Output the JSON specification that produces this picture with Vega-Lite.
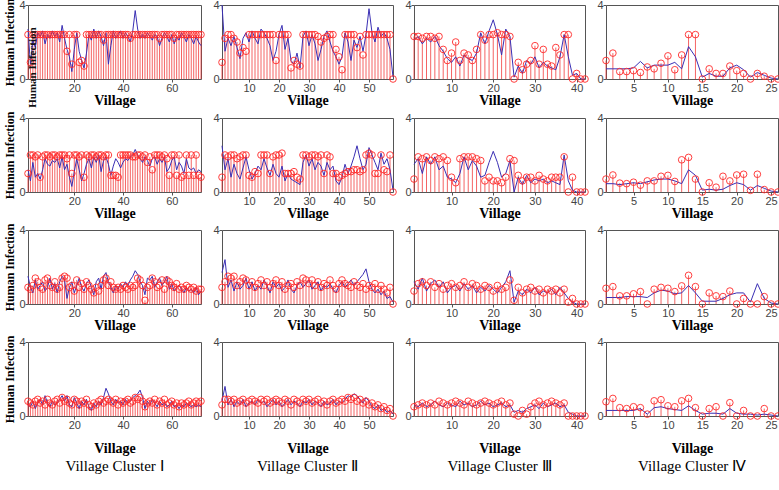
{
  "$schema": "https://vega.github.io/schema/vega-lite/v6.json",
  "background": "white",
  "padding": {"top": -3, "left": 3, "right": 2, "bottom": 0},
  "columns": 4,
  "align": "each",
  "spacing": {"row": 1, "column": 5},
  "config": {
    "view": {"stroke": "#555", "strokeWidth": 1},
    "axis": {"grid": false, "domain": false, "labelFont": "Liberation Sans", "labelFontSize": 11, "labelColor": "#444", "tickColor": "#555", "tickSize": 3, "labelPadding": 0, "titleFont": "Liberation Serif", "titleFontWeight": "bold", "titleFontSize": 14, "titleColor": "#000"},
    "axisY": {"titleFontSize": 12, "titlePadding": 2},
    "axisX": {"titlePadding": 0},
    "rule": {"color": "#f03030", "opacity": 0.75, "strokeWidth": 1},
    "line": {"color": "#3a2fb4", "strokeWidth": 1},
    "point": {"color": "#ff2a2a", "filled": false, "size": 44, "strokeWidth": 1, "opacity": 0.9},
    "text": {"font": "Liberation Serif", "fontSize": 13, "color": "#222"}
  },
  "datasets": {
    "c1_2010": [{"v":1,"o":2.4,"p":2.7},{"v":2,"o":0.9,"p":0.8},{"v":3,"o":2.4,"p":2.1},{"v":4,"o":2.4,"p":1.7},{"v":5,"o":2.4,"p":2.5},{"v":6,"o":2.4,"p":2.3},{"v":7,"o":2.4,"p":2.6},{"v":8,"o":2.4,"p":1.9},{"v":9,"o":2.4,"p":2.4},{"v":10,"o":2.4,"p":2.2},{"v":11,"o":2.4,"p":2.6},{"v":12,"o":2.4,"p":2.3},{"v":13,"o":2.4,"p":2.5},{"v":14,"o":2.4,"p":2.0},{"v":15,"o":2.4,"p":2.9},{"v":16,"o":2.4,"p":2.2},{"v":17,"o":1.5,"p":1.6},{"v":18,"o":2.4,"p":1.2},{"v":19,"o":0.8,"p":0.4},{"v":20,"o":2.4,"p":1.6},{"v":21,"o":2.4,"p":2.5},{"v":22,"o":0.9,"p":1.5},{"v":23,"o":1.0,"p":1.0},{"v":24,"o":0.7,"p":0.6},{"v":25,"o":2.4,"p":1.4},{"v":26,"o":2.4,"p":2.4},{"v":27,"o":2.4,"p":2.1},{"v":28,"o":2.4,"p":2.7},{"v":29,"o":2.4,"p":2.2},{"v":30,"o":2.4,"p":2.6},{"v":31,"o":2.4,"p":2.3},{"v":32,"o":2.1,"p":1.8},{"v":33,"o":2.4,"p":2.5},{"v":34,"o":2.4,"p":0.8},{"v":35,"o":2.4,"p":1.8},{"v":36,"o":2.4,"p":2.6},{"v":37,"o":2.4,"p":2.2},{"v":38,"o":2.4,"p":2.4},{"v":39,"o":2.4,"p":2.6},{"v":40,"o":2.4,"p":2.2},{"v":41,"o":2.4,"p":2.5},{"v":42,"o":2.4,"p":2.3},{"v":43,"o":2.2,"p":2.0},{"v":44,"o":2.4,"p":2.6},{"v":45,"o":2.4,"p":3.7},{"v":46,"o":2.4,"p":2.7},{"v":47,"o":2.4,"p":2.2},{"v":48,"o":2.4,"p":2.4},{"v":49,"o":2.4,"p":2.2},{"v":50,"o":2.4,"p":2.5},{"v":51,"o":2.4,"p":2.3},{"v":52,"o":2.4,"p":2.1},{"v":53,"o":2.4,"p":2.4},{"v":54,"o":2.4,"p":2.3},{"v":55,"o":2.2,"p":1.8},{"v":56,"o":2.4,"p":2.2},{"v":57,"o":2.4,"p":2.5},{"v":58,"o":2.4,"p":2.3},{"v":59,"o":2.4,"p":2.0},{"v":60,"o":2.4,"p":2.4},{"v":61,"o":2.2,"p":1.9},{"v":62,"o":2.4,"p":2.3},{"v":63,"o":2.4,"p":2.1},{"v":64,"o":2.4,"p":2.5},{"v":65,"o":2.4,"p":2.3},{"v":66,"o":2.4,"p":2.0},{"v":67,"o":2.4,"p":2.4},{"v":68,"o":2.4,"p":2.2},{"v":69,"o":2.4,"p":1.9},{"v":70,"o":2.4,"p":2.3},{"v":71,"o":2.4,"p":2.0},{"v":72,"o":2.4,"p":1.8}],
    "c1_2011": [{"v":1,"o":1.0,"p":1.2},{"v":2,"o":2.0,"p":0.6},{"v":3,"o":2.0,"p":1.6},{"v":4,"o":1.9,"p":0.8},{"v":5,"o":2.0,"p":1.0},{"v":6,"o":0.8,"p":0.7},{"v":7,"o":1.9,"p":1.2},{"v":8,"o":2.0,"p":1.8},{"v":9,"o":2.0,"p":1.5},{"v":10,"o":1.9,"p":1.4},{"v":11,"o":2.0,"p":1.7},{"v":12,"o":2.0,"p":1.6},{"v":13,"o":1.9,"p":1.8},{"v":14,"o":2.0,"p":1.3},{"v":15,"o":2.0,"p":1.9},{"v":16,"o":2.0,"p":1.2},{"v":17,"o":1.8,"p":1.5},{"v":18,"o":2.0,"p":0.8},{"v":19,"o":1.0,"p":0.3},{"v":20,"o":2.0,"p":1.1},{"v":21,"o":2.0,"p":1.8},{"v":22,"o":1.9,"p":1.2},{"v":23,"o":2.0,"p":0.6},{"v":24,"o":0.8,"p":1.0},{"v":25,"o":2.0,"p":1.5},{"v":26,"o":1.9,"p":1.8},{"v":27,"o":2.0,"p":1.3},{"v":28,"o":2.0,"p":1.9},{"v":29,"o":1.9,"p":1.6},{"v":30,"o":2.0,"p":2.0},{"v":31,"o":2.0,"p":1.1},{"v":32,"o":1.9,"p":1.7},{"v":33,"o":2.0,"p":1.9},{"v":34,"o":2.0,"p":1.5},{"v":35,"o":0.9,"p":0.9},{"v":36,"o":0.9,"p":1.4},{"v":37,"o":0.9,"p":1.8},{"v":38,"o":0.8,"p":1.6},{"v":39,"o":2.0,"p":1.3},{"v":40,"o":2.0,"p":1.6},{"v":41,"o":2.0,"p":1.8},{"v":42,"o":2.0,"p":1.7},{"v":43,"o":2.0,"p":1.9},{"v":44,"o":1.9,"p":2.0},{"v":45,"o":1.9,"p":2.3},{"v":46,"o":2.0,"p":2.0},{"v":47,"o":2.0,"p":1.8},{"v":48,"o":1.9,"p":1.6},{"v":49,"o":2.0,"p":1.9},{"v":50,"o":1.6,"p":1.7},{"v":51,"o":1.9,"p":1.4},{"v":52,"o":1.2,"p":1.8},{"v":53,"o":2.0,"p":1.9},{"v":54,"o":2.0,"p":1.5},{"v":55,"o":2.0,"p":1.8},{"v":56,"o":1.9,"p":1.6},{"v":57,"o":2.0,"p":1.9},{"v":58,"o":1.8,"p":1.1},{"v":59,"o":0.9,"p":1.3},{"v":60,"o":2.0,"p":1.7},{"v":61,"o":2.0,"p":1.9},{"v":62,"o":0.9,"p":1.2},{"v":63,"o":2.0,"p":1.6},{"v":64,"o":0.8,"p":1.4},{"v":65,"o":0.9,"p":1.0},{"v":66,"o":2.0,"p":1.8},{"v":67,"o":0.9,"p":1.3},{"v":68,"o":2.0,"p":1.2},{"v":69,"o":0.9,"p":1.3},{"v":70,"o":2.0,"p":1.0},{"v":71,"o":0.9,"p":1.2},{"v":72,"o":0.8,"p":1.1}],
    "c1_2012": [{"v":1,"o":0.9,"p":1.5},{"v":2,"o":0.8,"p":0.9},{"v":3,"o":1.0,"p":0.6},{"v":4,"o":1.4,"p":1.3},{"v":5,"o":1.2,"p":0.8},{"v":6,"o":0.9,"p":1.0},{"v":7,"o":0.8,"p":1.2},{"v":8,"o":1.3,"p":0.7},{"v":9,"o":1.4,"p":0.9},{"v":10,"o":1.0,"p":1.4},{"v":11,"o":0.9,"p":0.8},{"v":12,"o":1.2,"p":1.1},{"v":13,"o":0.8,"p":0.6},{"v":14,"o":0.9,"p":1.2},{"v":15,"o":1.4,"p":1.5},{"v":16,"o":1.5,"p":1.3},{"v":17,"o":1.4,"p":0.3},{"v":18,"o":0.9,"p":0.9},{"v":19,"o":1.0,"p":1.2},{"v":20,"o":0.7,"p":0.6},{"v":21,"o":1.3,"p":1.0},{"v":22,"o":0.9,"p":1.4},{"v":23,"o":1.1,"p":0.9},{"v":24,"o":0.8,"p":0.7},{"v":25,"o":1.2,"p":1.1},{"v":26,"o":1.0,"p":1.3},{"v":27,"o":0.8,"p":0.9},{"v":28,"o":0.6,"p":0.5},{"v":29,"o":0.9,"p":1.2},{"v":30,"o":0.7,"p":1.4},{"v":31,"o":1.0,"p":0.8},{"v":32,"o":1.3,"p":1.5},{"v":33,"o":1.4,"p":1.7},{"v":34,"o":1.0,"p":1.2},{"v":35,"o":1.2,"p":0.9},{"v":36,"o":0.9,"p":0.6},{"v":37,"o":0.8,"p":1.0},{"v":38,"o":0.9,"p":0.8},{"v":39,"o":0.8,"p":1.1},{"v":40,"o":1.0,"p":0.9},{"v":41,"o":0.9,"p":1.2},{"v":42,"o":0.8,"p":1.0},{"v":43,"o":1.0,"p":1.3},{"v":44,"o":0.9,"p":1.5},{"v":45,"o":1.0,"p":1.8},{"v":46,"o":1.4,"p":1.6},{"v":47,"o":1.3,"p":1.2},{"v":48,"o":1.0,"p":1.0},{"v":49,"o":0.2,"p":0.5},{"v":50,"o":0.9,"p":1.4},{"v":51,"o":1.0,"p":1.3},{"v":52,"o":1.4,"p":1.5},{"v":53,"o":1.2,"p":0.9},{"v":54,"o":0.9,"p":1.2},{"v":55,"o":1.0,"p":1.4},{"v":56,"o":1.3,"p":1.0},{"v":57,"o":0.8,"p":1.2},{"v":58,"o":1.3,"p":1.5},{"v":59,"o":1.2,"p":0.8},{"v":60,"o":1.0,"p":1.1},{"v":61,"o":0.9,"p":0.7},{"v":62,"o":1.1,"p":0.9},{"v":63,"o":0.8,"p":1.0},{"v":64,"o":0.9,"p":0.8},{"v":65,"o":0.8,"p":0.6},{"v":66,"o":1.0,"p":0.9},{"v":67,"o":0.9,"p":0.7},{"v":68,"o":0.8,"p":0.8},{"v":69,"o":0.9,"p":0.6},{"v":70,"o":0.7,"p":0.9},{"v":71,"o":0.8,"p":0.5},{"v":72,"o":0.8,"p":0.7}],
    "c1_2013": [{"v":1,"o":0.8,"p":0.6},{"v":2,"o":0.7,"p":0.5},{"v":3,"o":0.6,"p":0.8},{"v":4,"o":0.8,"p":0.4},{"v":5,"o":0.9,"p":0.7},{"v":6,"o":0.7,"p":0.9},{"v":7,"o":0.8,"p":0.6},{"v":8,"o":0.6,"p":1.1},{"v":9,"o":0.9,"p":0.7},{"v":10,"o":0.7,"p":0.5},{"v":11,"o":0.6,"p":0.8},{"v":12,"o":0.8,"p":0.6},{"v":13,"o":0.9,"p":0.7},{"v":14,"o":0.7,"p":0.9},{"v":15,"o":1.0,"p":1.1},{"v":16,"o":0.8,"p":0.8},{"v":17,"o":0.9,"p":1.1},{"v":18,"o":0.7,"p":0.6},{"v":19,"o":0.6,"p":0.5},{"v":20,"o":0.9,"p":1.0},{"v":21,"o":0.8,"p":0.7},{"v":22,"o":0.6,"p":0.4},{"v":23,"o":0.8,"p":0.8},{"v":24,"o":0.7,"p":0.6},{"v":25,"o":0.9,"p":0.9},{"v":26,"o":0.6,"p":0.5},{"v":27,"o":0.5,"p":0.3},{"v":28,"o":0.7,"p":0.7},{"v":29,"o":0.6,"p":0.5},{"v":30,"o":0.8,"p":0.8},{"v":31,"o":0.9,"p":0.6},{"v":32,"o":0.7,"p":1.0},{"v":33,"o":0.8,"p":1.5},{"v":34,"o":0.9,"p":1.2},{"v":35,"o":0.8,"p":0.8},{"v":36,"o":0.7,"p":0.6},{"v":37,"o":0.9,"p":0.9},{"v":38,"o":0.6,"p":0.7},{"v":39,"o":0.8,"p":0.8},{"v":40,"o":0.7,"p":0.6},{"v":41,"o":0.8,"p":0.9},{"v":42,"o":0.9,"p":0.7},{"v":43,"o":0.7,"p":0.8},{"v":44,"o":0.8,"p":1.0},{"v":45,"o":1.0,"p":1.1},{"v":46,"o":0.9,"p":1.2},{"v":47,"o":1.0,"p":1.4},{"v":48,"o":0.8,"p":1.0},{"v":49,"o":0.5,"p":0.4},{"v":50,"o":0.7,"p":0.8},{"v":51,"o":0.8,"p":0.6},{"v":52,"o":0.7,"p":0.9},{"v":53,"o":0.9,"p":0.7},{"v":54,"o":0.6,"p":0.5},{"v":55,"o":0.8,"p":0.8},{"v":56,"o":0.7,"p":0.6},{"v":57,"o":0.9,"p":0.7},{"v":58,"o":0.6,"p":0.5},{"v":59,"o":0.7,"p":0.6},{"v":60,"o":0.8,"p":0.8},{"v":61,"o":0.6,"p":0.5},{"v":62,"o":0.7,"p":0.6},{"v":63,"o":0.5,"p":0.4},{"v":64,"o":0.7,"p":0.6},{"v":65,"o":0.6,"p":0.5},{"v":66,"o":0.7,"p":0.7},{"v":67,"o":0.8,"p":0.6},{"v":68,"o":0.6,"p":0.5},{"v":69,"o":0.7,"p":0.6},{"v":70,"o":0.8,"p":0.5},{"v":71,"o":0.7,"p":0.6},{"v":72,"o":0.8,"p":0.5}],
    "c2_2010": [{"v":1,"o":0.9,"p":4.0},{"v":2,"o":2.2,"p":1.5},{"v":3,"o":2.4,"p":2.2},{"v":4,"o":2.4,"p":1.8},{"v":5,"o":2.2,"p":2.3},{"v":6,"o":2.0,"p":1.7},{"v":7,"o":1.4,"p":1.1},{"v":8,"o":1.7,"p":2.2},{"v":9,"o":1.5,"p":2.5},{"v":10,"o":2.4,"p":2.0},{"v":11,"o":2.4,"p":2.6},{"v":12,"o":2.4,"p":2.2},{"v":13,"o":2.4,"p":1.9},{"v":14,"o":2.4,"p":2.7},{"v":15,"o":2.4,"p":2.5},{"v":16,"o":2.4,"p":2.2},{"v":17,"o":2.4,"p":1.8},{"v":18,"o":2.4,"p":1.0},{"v":19,"o":1.0,"p":1.5},{"v":20,"o":2.4,"p":2.4},{"v":21,"o":2.4,"p":2.9},{"v":22,"o":2.4,"p":1.6},{"v":23,"o":2.4,"p":2.2},{"v":24,"o":0.6,"p":1.0},{"v":25,"o":1.0,"p":0.8},{"v":26,"o":0.8,"p":1.4},{"v":27,"o":0.7,"p":0.6},{"v":28,"o":2.4,"p":2.3},{"v":29,"o":2.4,"p":2.6},{"v":30,"o":2.4,"p":1.8},{"v":31,"o":2.4,"p":2.4},{"v":32,"o":2.4,"p":1.9},{"v":33,"o":2.3,"p":1.0},{"v":34,"o":2.0,"p":1.6},{"v":35,"o":2.2,"p":2.3},{"v":36,"o":2.3,"p":2.6},{"v":37,"o":2.4,"p":2.0},{"v":38,"o":2.4,"p":1.5},{"v":39,"o":1.6,"p":1.2},{"v":40,"o":1.2,"p":0.8},{"v":41,"o":0.5,"p":1.2},{"v":42,"o":2.4,"p":2.5},{"v":43,"o":2.4,"p":2.0},{"v":44,"o":2.4,"p":1.0},{"v":45,"o":2.4,"p":2.1},{"v":46,"o":1.7,"p":1.7},{"v":47,"o":2.3,"p":2.3},{"v":48,"o":1.3,"p":1.5},{"v":49,"o":2.4,"p":2.4},{"v":50,"o":2.4,"p":3.8},{"v":51,"o":2.4,"p":2.5},{"v":52,"o":2.4,"p":2.0},{"v":53,"o":2.4,"p":2.8},{"v":54,"o":2.4,"p":2.3},{"v":55,"o":2.4,"p":2.5},{"v":56,"o":2.4,"p":2.2},{"v":57,"o":2.4,"p":1.6},{"v":58,"o":0.0,"p":0.1}],
    "c2_2011": [{"v":1,"o":0.8,"p":2.5},{"v":2,"o":2.0,"p":1.2},{"v":3,"o":1.9,"p":1.8},{"v":4,"o":2.0,"p":0.8},{"v":5,"o":2.0,"p":1.5},{"v":6,"o":1.8,"p":1.0},{"v":7,"o":1.9,"p":0.7},{"v":8,"o":2.0,"p":1.3},{"v":9,"o":2.0,"p":1.9},{"v":10,"o":0.9,"p":1.2},{"v":11,"o":0.8,"p":0.7},{"v":12,"o":1.1,"p":1.0},{"v":13,"o":1.0,"p":1.4},{"v":14,"o":2.0,"p":1.2},{"v":15,"o":2.0,"p":1.8},{"v":16,"o":2.0,"p":1.3},{"v":17,"o":1.0,"p":0.9},{"v":18,"o":1.9,"p":1.5},{"v":19,"o":2.0,"p":1.0},{"v":20,"o":2.0,"p":0.8},{"v":21,"o":2.1,"p":1.4},{"v":22,"o":1.0,"p":0.6},{"v":23,"o":1.0,"p":1.0},{"v":24,"o":1.0,"p":0.7},{"v":25,"o":1.1,"p":0.6},{"v":26,"o":0.8,"p":0.5},{"v":27,"o":0.7,"p":0.4},{"v":28,"o":2.0,"p":1.6},{"v":29,"o":2.0,"p":2.0},{"v":30,"o":1.9,"p":1.4},{"v":31,"o":2.0,"p":1.8},{"v":32,"o":2.0,"p":1.2},{"v":33,"o":1.9,"p":1.6},{"v":34,"o":2.0,"p":1.4},{"v":35,"o":1.0,"p":0.9},{"v":36,"o":2.0,"p":1.6},{"v":37,"o":1.9,"p":1.2},{"v":38,"o":1.0,"p":1.4},{"v":39,"o":1.0,"p":0.6},{"v":40,"o":0.8,"p":0.4},{"v":41,"o":0.9,"p":0.8},{"v":42,"o":1.0,"p":1.5},{"v":43,"o":1.1,"p":1.0},{"v":44,"o":1.1,"p":1.4},{"v":45,"o":1.2,"p":1.9},{"v":46,"o":1.2,"p":2.5},{"v":47,"o":1.1,"p":1.8},{"v":48,"o":1.2,"p":1.2},{"v":49,"o":2.0,"p":1.5},{"v":50,"o":2.1,"p":2.4},{"v":51,"o":2.0,"p":2.0},{"v":52,"o":1.0,"p":1.6},{"v":53,"o":1.0,"p":1.2},{"v":54,"o":2.0,"p":2.1},{"v":55,"o":1.2,"p":1.5},{"v":56,"o":1.1,"p":1.8},{"v":57,"o":2.0,"p":1.2},{"v":58,"o":0.0,"p":0.1}],
    "c2_2012": [{"v":1,"o":0.9,"p":1.7},{"v":2,"o":1.2,"p":2.4},{"v":3,"o":1.5,"p":0.9},{"v":4,"o":1.4,"p":1.3},{"v":5,"o":1.5,"p":0.7},{"v":6,"o":1.0,"p":1.2},{"v":7,"o":1.2,"p":0.8},{"v":8,"o":1.4,"p":1.0},{"v":9,"o":1.3,"p":1.4},{"v":10,"o":1.0,"p":0.8},{"v":11,"o":1.2,"p":1.2},{"v":12,"o":0.9,"p":0.7},{"v":13,"o":1.1,"p":1.0},{"v":14,"o":1.3,"p":0.8},{"v":15,"o":1.0,"p":1.3},{"v":16,"o":1.2,"p":1.0},{"v":17,"o":0.9,"p":0.6},{"v":18,"o":1.1,"p":1.2},{"v":19,"o":1.3,"p":0.9},{"v":20,"o":1.0,"p":1.1},{"v":21,"o":1.2,"p":0.7},{"v":22,"o":0.8,"p":0.9},{"v":23,"o":1.0,"p":1.3},{"v":24,"o":1.1,"p":0.8},{"v":25,"o":0.9,"p":0.6},{"v":26,"o":1.2,"p":1.0},{"v":27,"o":1.0,"p":1.2},{"v":28,"o":1.4,"p":0.9},{"v":29,"o":1.3,"p":1.1},{"v":30,"o":1.1,"p":1.3},{"v":31,"o":1.3,"p":0.8},{"v":32,"o":1.0,"p":1.0},{"v":33,"o":1.2,"p":1.2},{"v":34,"o":0.9,"p":0.7},{"v":35,"o":1.1,"p":1.0},{"v":36,"o":1.0,"p":0.9},{"v":37,"o":1.3,"p":1.1},{"v":38,"o":1.0,"p":0.8},{"v":39,"o":0.8,"p":0.6},{"v":40,"o":1.1,"p":1.0},{"v":41,"o":1.3,"p":1.2},{"v":42,"o":1.1,"p":0.9},{"v":43,"o":1.0,"p":1.1},{"v":44,"o":0.9,"p":1.3},{"v":45,"o":1.2,"p":1.0},{"v":46,"o":1.0,"p":1.2},{"v":47,"o":0.9,"p":1.4},{"v":48,"o":1.1,"p":1.6},{"v":49,"o":0.8,"p":1.9},{"v":50,"o":1.0,"p":1.2},{"v":51,"o":0.9,"p":0.8},{"v":52,"o":1.1,"p":0.6},{"v":53,"o":0.8,"p":0.8},{"v":54,"o":1.0,"p":0.5},{"v":55,"o":0.8,"p":0.7},{"v":56,"o":0.6,"p":0.3},{"v":57,"o":0.9,"p":0.4},{"v":58,"o":0.0,"p":0.1}],
    "c2_2013": [{"v":1,"o":0.6,"p":0.8},{"v":2,"o":0.9,"p":1.6},{"v":3,"o":0.9,"p":0.6},{"v":4,"o":0.8,"p":0.9},{"v":5,"o":0.9,"p":0.5},{"v":6,"o":0.7,"p":0.8},{"v":7,"o":0.8,"p":0.6},{"v":8,"o":0.9,"p":0.9},{"v":9,"o":0.7,"p":0.5},{"v":10,"o":0.8,"p":0.7},{"v":11,"o":0.9,"p":0.8},{"v":12,"o":0.8,"p":0.6},{"v":13,"o":0.7,"p":0.9},{"v":14,"o":0.9,"p":0.7},{"v":15,"o":0.8,"p":0.8},{"v":16,"o":0.9,"p":0.5},{"v":17,"o":0.7,"p":0.7},{"v":18,"o":0.8,"p":0.9},{"v":19,"o":0.9,"p":0.6},{"v":20,"o":0.8,"p":0.8},{"v":21,"o":0.7,"p":0.5},{"v":22,"o":0.9,"p":0.7},{"v":23,"o":0.8,"p":0.9},{"v":24,"o":0.6,"p":0.6},{"v":25,"o":0.9,"p":0.8},{"v":26,"o":0.8,"p":0.7},{"v":27,"o":0.7,"p":0.5},{"v":28,"o":0.9,"p":0.8},{"v":29,"o":0.8,"p":0.7},{"v":30,"o":0.9,"p":0.9},{"v":31,"o":0.7,"p":0.6},{"v":32,"o":0.8,"p":0.8},{"v":33,"o":0.9,"p":0.7},{"v":34,"o":0.7,"p":0.5},{"v":35,"o":0.8,"p":0.8},{"v":36,"o":0.6,"p":0.6},{"v":37,"o":0.8,"p":0.7},{"v":38,"o":0.9,"p":0.9},{"v":39,"o":0.7,"p":0.6},{"v":40,"o":0.8,"p":0.8},{"v":41,"o":0.9,"p":0.7},{"v":42,"o":0.8,"p":0.9},{"v":43,"o":1.0,"p":1.1},{"v":44,"o":0.9,"p":1.0},{"v":45,"o":1.0,"p":1.2},{"v":46,"o":0.8,"p":1.1},{"v":47,"o":0.9,"p":0.9},{"v":48,"o":0.7,"p":0.7},{"v":49,"o":0.8,"p":1.0},{"v":50,"o":0.6,"p":0.8},{"v":51,"o":0.7,"p":0.5},{"v":52,"o":0.5,"p":0.4},{"v":53,"o":0.6,"p":0.6},{"v":54,"o":0.4,"p":0.3},{"v":55,"o":0.5,"p":0.4},{"v":56,"o":0.3,"p":0.2},{"v":57,"o":0.4,"p":0.3},{"v":58,"o":0.0,"p":0.1}],
    "c3_2010": [{"v":1,"o":2.3,"p":2.1},{"v":2,"o":2.3,"p":2.3},{"v":3,"o":2.2,"p":1.9},{"v":4,"o":2.3,"p":2.2},{"v":5,"o":2.3,"p":2.0},{"v":6,"o":2.2,"p":2.3},{"v":7,"o":2.3,"p":1.8},{"v":8,"o":1.6,"p":1.5},{"v":9,"o":1.0,"p":1.1},{"v":10,"o":1.4,"p":0.9},{"v":11,"o":2.0,"p":1.2},{"v":12,"o":1.0,"p":0.7},{"v":13,"o":1.4,"p":1.3},{"v":14,"o":1.3,"p":1.1},{"v":15,"o":1.0,"p":1.0},{"v":16,"o":1.6,"p":1.4},{"v":17,"o":2.4,"p":2.5},{"v":18,"o":2.1,"p":1.9},{"v":19,"o":2.4,"p":2.6},{"v":20,"o":2.4,"p":3.2},{"v":21,"o":2.5,"p":2.4},{"v":22,"o":2.4,"p":1.3},{"v":23,"o":2.4,"p":2.7},{"v":24,"o":2.3,"p":2.3},{"v":25,"o":0.0,"p":0.1},{"v":26,"o":0.9,"p":0.7},{"v":27,"o":0.5,"p":0.3},{"v":28,"o":0.8,"p":1.0},{"v":29,"o":1.0,"p":0.8},{"v":30,"o":1.8,"p":1.2},{"v":31,"o":0.8,"p":0.6},{"v":32,"o":1.6,"p":0.9},{"v":33,"o":0.8,"p":0.7},{"v":34,"o":0.7,"p":0.6},{"v":35,"o":1.7,"p":0.5},{"v":36,"o":1.3,"p":1.2},{"v":37,"o":2.4,"p":2.4},{"v":38,"o":2.4,"p":1.2},{"v":39,"o":0.0,"p":0.2},{"v":40,"o":0.3,"p":0.3},{"v":41,"o":0.0,"p":0.0},{"v":42,"o":0.0,"p":0.0}],
    "c3_2011": [{"v":1,"o":0.7,"p":1.5},{"v":2,"o":1.9,"p":1.8},{"v":3,"o":1.8,"p":1.0},{"v":4,"o":1.9,"p":1.9},{"v":5,"o":1.7,"p":1.5},{"v":6,"o":1.9,"p":1.9},{"v":7,"o":1.8,"p":1.2},{"v":8,"o":1.9,"p":1.4},{"v":9,"o":1.7,"p":0.8},{"v":10,"o":0.8,"p":0.7},{"v":11,"o":0.5,"p":0.5},{"v":12,"o":1.8,"p":1.0},{"v":13,"o":1.9,"p":1.9},{"v":14,"o":1.9,"p":1.2},{"v":15,"o":1.9,"p":1.7},{"v":16,"o":1.8,"p":1.4},{"v":17,"o":1.7,"p":0.8},{"v":18,"o":0.6,"p":0.9},{"v":19,"o":0.8,"p":1.6},{"v":20,"o":0.6,"p":2.2},{"v":21,"o":0.6,"p":1.6},{"v":22,"o":0.5,"p":0.8},{"v":23,"o":0.8,"p":1.0},{"v":24,"o":1.8,"p":1.7},{"v":25,"o":1.7,"p":0.0},{"v":26,"o":0.9,"p":0.8},{"v":27,"o":0.6,"p":0.4},{"v":28,"o":0.8,"p":0.9},{"v":29,"o":0.8,"p":0.5},{"v":30,"o":0.6,"p":0.7},{"v":31,"o":0.9,"p":0.6},{"v":32,"o":0.7,"p":0.7},{"v":33,"o":0.6,"p":0.5},{"v":34,"o":0.8,"p":0.6},{"v":35,"o":0.8,"p":0.5},{"v":36,"o":0.8,"p":0.4},{"v":37,"o":1.9,"p":2.0},{"v":38,"o":0.0,"p":0.6},{"v":39,"o":0.8,"p":0.1},{"v":40,"o":0.0,"p":0.0},{"v":41,"o":0.0,"p":0.0},{"v":42,"o":0.0,"p":0.0}],
    "c3_2012": [{"v":1,"o":0.7,"p":1.2},{"v":2,"o":1.1,"p":0.8},{"v":3,"o":1.2,"p":1.4},{"v":4,"o":1.0,"p":0.7},{"v":5,"o":1.2,"p":1.1},{"v":6,"o":0.9,"p":1.3},{"v":7,"o":1.1,"p":0.9},{"v":8,"o":0.8,"p":1.2},{"v":9,"o":1.0,"p":0.6},{"v":10,"o":1.1,"p":0.9},{"v":11,"o":0.9,"p":1.0},{"v":12,"o":1.0,"p":0.7},{"v":13,"o":1.2,"p":1.1},{"v":14,"o":0.9,"p":0.8},{"v":15,"o":1.1,"p":1.0},{"v":16,"o":1.0,"p":0.6},{"v":17,"o":0.8,"p":0.9},{"v":18,"o":1.0,"p":0.7},{"v":19,"o":0.9,"p":1.0},{"v":20,"o":0.7,"p":0.8},{"v":21,"o":1.0,"p":0.6},{"v":22,"o":0.8,"p":0.9},{"v":23,"o":0.9,"p":1.2},{"v":24,"o":1.3,"p":1.8},{"v":25,"o":0.2,"p":0.1},{"v":26,"o":0.9,"p":0.7},{"v":27,"o":0.6,"p":0.5},{"v":28,"o":0.8,"p":0.8},{"v":29,"o":0.9,"p":0.6},{"v":30,"o":0.7,"p":0.9},{"v":31,"o":0.8,"p":0.5},{"v":32,"o":0.6,"p":0.7},{"v":33,"o":0.8,"p":0.6},{"v":34,"o":0.7,"p":0.8},{"v":35,"o":0.8,"p":0.5},{"v":36,"o":0.6,"p":0.9},{"v":37,"o":0.8,"p":0.6},{"v":38,"o":0.1,"p":0.3},{"v":39,"o":0.3,"p":0.1},{"v":40,"o":0.0,"p":0.0},{"v":41,"o":0.0,"p":0.0},{"v":42,"o":0.0,"p":0.0}],
    "c3_2013": [{"v":1,"o":0.5,"p":0.6},{"v":2,"o":0.6,"p":0.5},{"v":3,"o":0.7,"p":0.7},{"v":4,"o":0.6,"p":0.5},{"v":5,"o":0.7,"p":0.6},{"v":6,"o":0.6,"p":0.8},{"v":7,"o":0.8,"p":0.6},{"v":8,"o":0.7,"p":0.5},{"v":9,"o":0.6,"p":0.7},{"v":10,"o":0.7,"p":0.6},{"v":11,"o":0.8,"p":0.5},{"v":12,"o":0.7,"p":0.8},{"v":13,"o":0.6,"p":0.6},{"v":14,"o":0.8,"p":0.7},{"v":15,"o":0.7,"p":0.5},{"v":16,"o":0.6,"p":0.6},{"v":17,"o":0.7,"p":0.8},{"v":18,"o":0.8,"p":0.6},{"v":19,"o":0.7,"p":0.7},{"v":20,"o":0.6,"p":0.5},{"v":21,"o":0.7,"p":0.6},{"v":22,"o":0.8,"p":0.7},{"v":23,"o":0.6,"p":0.5},{"v":24,"o":0.7,"p":0.6},{"v":25,"o":0.1,"p":0.2},{"v":26,"o":0.0,"p":0.3},{"v":27,"o":0.3,"p":0.2},{"v":28,"o":0.1,"p":0.4},{"v":29,"o":0.5,"p":0.5},{"v":30,"o":0.7,"p":0.6},{"v":31,"o":0.8,"p":0.4},{"v":32,"o":0.6,"p":0.7},{"v":33,"o":0.7,"p":0.5},{"v":34,"o":0.8,"p":0.6},{"v":35,"o":0.7,"p":0.7},{"v":36,"o":0.6,"p":0.5},{"v":37,"o":0.7,"p":0.6},{"v":38,"o":0.0,"p":0.2},{"v":39,"o":0.0,"p":0.1},{"v":40,"o":0.0,"p":0.0},{"v":41,"o":0.0,"p":0.0},{"v":42,"o":0.0,"p":0.0}],
    "c4_2010": [{"v":1,"o":1.0,"p":0.55},{"v":2,"o":1.4,"p":0.55},{"v":3,"o":0.4,"p":0.55},{"v":4,"o":0.4,"p":0.55},{"v":5,"o":0.45,"p":0.6},{"v":6,"o":0.35,"p":0.95},{"v":7,"o":0.65,"p":0.6},{"v":8,"o":0.55,"p":0.75},{"v":9,"o":0.85,"p":0.75},{"v":10,"o":1.25,"p":0.75},{"v":11,"o":0.5,"p":0.9},{"v":12,"o":1.3,"p":0.55},{"v":13,"o":2.4,"p":1.75},{"v":14,"o":2.4,"p":1.2},{"v":15,"o":0.0,"p":0.1},{"v":16,"o":0.55,"p":0.3},{"v":17,"o":0.3,"p":0.15},{"v":18,"o":0.3,"p":0.15},{"v":19,"o":0.7,"p":0.6},{"v":20,"o":0.45,"p":0.75},{"v":21,"o":0.3,"p":0.5},{"v":22,"o":0.0,"p":0.1},{"v":23,"o":0.3,"p":0.35},{"v":24,"o":0.15,"p":0.2},{"v":25,"o":0.0,"p":0.05},{"v":26,"o":0.0,"p":0.0}],
    "c4_2011": [{"v":1,"o":0.7,"p":0.45},{"v":2,"o":0.92,"p":0.45},{"v":3,"o":0.48,"p":0.4},{"v":4,"o":0.45,"p":0.45},{"v":5,"o":0.53,"p":0.5},{"v":6,"o":0.37,"p":0.45},{"v":7,"o":0.6,"p":0.55},{"v":8,"o":0.6,"p":0.65},{"v":9,"o":0.85,"p":0.7},{"v":10,"o":0.9,"p":0.7},{"v":11,"o":0.57,"p":0.6},{"v":12,"o":1.74,"p":0.45},{"v":13,"o":1.87,"p":1.2},{"v":14,"o":0.7,"p":0.9},{"v":15,"o":0.0,"p":0.1},{"v":16,"o":0.5,"p":0.15},{"v":17,"o":0.26,"p":0.1},{"v":18,"o":0.85,"p":0.15},{"v":19,"o":0.6,"p":0.35},{"v":20,"o":0.92,"p":0.5},{"v":21,"o":0.96,"p":0.4},{"v":22,"o":0.09,"p":0.1},{"v":23,"o":0.96,"p":0.35},{"v":24,"o":0.13,"p":0.2},{"v":25,"o":0.0,"p":0.05},{"v":26,"o":0.0,"p":0.0}],
    "c4_2012": [{"v":1,"o":0.85,"p":0.35},{"v":2,"o":0.94,"p":0.35},{"v":3,"o":0.44,"p":0.35},{"v":4,"o":0.44,"p":0.4},{"v":5,"o":0.55,"p":0.4},{"v":6,"o":0.67,"p":0.4},{"v":7,"o":0.0,"p":0.35},{"v":8,"o":0.8,"p":0.6},{"v":9,"o":0.9,"p":0.75},{"v":10,"o":0.85,"p":0.7},{"v":11,"o":0.67,"p":0.55},{"v":12,"o":0.98,"p":0.6},{"v":13,"o":1.55,"p":1.0},{"v":14,"o":0.94,"p":0.6},{"v":15,"o":0.0,"p":0.15},{"v":16,"o":0.6,"p":0.15},{"v":17,"o":0.44,"p":0.15},{"v":18,"o":0.4,"p":0.3},{"v":19,"o":0.7,"p":0.5},{"v":20,"o":0.0,"p":0.6},{"v":21,"o":0.3,"p":0.6},{"v":22,"o":0.0,"p":0.1},{"v":23,"o":0.0,"p":1.1},{"v":24,"o":0.4,"p":0.3},{"v":25,"o":0.0,"p":0.05},{"v":26,"o":0.0,"p":0.0}],
    "c4_2013": [{"v":1,"o":0.77,"p":0.3},{"v":2,"o":0.95,"p":0.3},{"v":3,"o":0.45,"p":0.3},{"v":4,"o":0.4,"p":0.3},{"v":5,"o":0.5,"p":0.3},{"v":6,"o":0.45,"p":0.4},{"v":7,"o":0.1,"p":0.1},{"v":8,"o":0.82,"p":0.45},{"v":9,"o":0.88,"p":0.5},{"v":10,"o":0.55,"p":0.4},{"v":11,"o":0.5,"p":0.35},{"v":12,"o":0.82,"p":0.3},{"v":13,"o":0.95,"p":0.55},{"v":14,"o":0.45,"p":0.3},{"v":15,"o":0.0,"p":0.1},{"v":16,"o":0.4,"p":0.15},{"v":17,"o":0.5,"p":0.15},{"v":18,"o":0.0,"p":0.1},{"v":19,"o":0.72,"p":0.4},{"v":20,"o":0.0,"p":0.15},{"v":21,"o":0.3,"p":0.1},{"v":22,"o":0.0,"p":0.1},{"v":23,"o":0.0,"p":0.05},{"v":24,"o":0.4,"p":0.1},{"v":25,"o":0.0,"p":0.05},{"v":26,"o":0.0,"p":0.0}]
  },
  "concat": [
    {"width": 173, "height": 74, "data": {"name": "c1_2010"},
     "encoding": {"x": {"field": "v", "type": "quantitative", "scale": {"domain": [1, 72], "nice": false, "zero": false}, "axis": {"values": [20, 40, 60], "title": "Village"}}},
     "layer": [
       {"mark": "rule", "encoding": {"y": {"field": "o", "type": "quantitative", "scale": {"domain": [0, 4]}, "axis": {"values": [0, 2, 4], "title": "Human Infection"}}, "y2": {"datum": 0}}},
       {"mark": "line", "encoding": {"y": {"field": "p", "type": "quantitative", "scale": {"domain": [0, 4]}}}},
       {"mark": "point", "encoding": {"y": {"field": "o", "type": "quantitative", "scale": {"domain": [0, 4]}}}},
       {"data": {"values": [{"t": "2010"}]}, "mark": "text", "encoding": {"text": {"field": "t"}, "x": {"datum": 36.5}, "y": {"datum": 3.4}}},
       {"transform": [{"filter": "datum.v == 1"}], "mark": {"type": "text", "angle": 270, "align": "center", "baseline": "middle", "fontWeight": "bold", "fontSize": 11, "color": "#111"}, "encoding": {"text": {"value": "Human Infection"}, "x": {"datum": 3.2}, "y": {"datum": 0.62}}}
     ]},
    {"width": 171, "height": 74, "data": {"name": "c2_2010"},
     "encoding": {"x": {"field": "v", "type": "quantitative", "scale": {"domain": [1, 58], "nice": false, "zero": false}, "axis": {"values": [10, 20, 30, 40, 50], "title": "Village"}}},
     "layer": [
       {"mark": "rule", "encoding": {"y": {"field": "o", "type": "quantitative", "scale": {"domain": [0, 4]}, "axis": {"values": [0, 2, 4], "title": null}}, "y2": {"datum": 0}}},
       {"mark": "line", "encoding": {"y": {"field": "p", "type": "quantitative", "scale": {"domain": [0, 4]}}}},
       {"mark": "point", "encoding": {"y": {"field": "o", "type": "quantitative", "scale": {"domain": [0, 4]}}}},
       {"data": {"values": [{"t": "2010"}]}, "mark": "text", "encoding": {"text": {"field": "t"}, "x": {"datum": 29.5}, "y": {"datum": 3.4}}}
     ]},
    {"width": 171, "height": 74, "data": {"name": "c3_2010"},
     "encoding": {"x": {"field": "v", "type": "quantitative", "scale": {"domain": [1, 42], "nice": false, "zero": false}, "axis": {"values": [10, 20, 30, 40], "title": "Village"}}},
     "layer": [
       {"mark": "rule", "encoding": {"y": {"field": "o", "type": "quantitative", "scale": {"domain": [0, 4]}, "axis": {"values": [0, 2, 4], "title": null}}, "y2": {"datum": 0}}},
       {"mark": "line", "encoding": {"y": {"field": "p", "type": "quantitative", "scale": {"domain": [0, 4]}}}},
       {"mark": "point", "encoding": {"y": {"field": "o", "type": "quantitative", "scale": {"domain": [0, 4]}}}},
       {"data": {"values": [{"t": "2010"}]}, "mark": "text", "encoding": {"text": {"field": "t"}, "x": {"datum": 21.5}, "y": {"datum": 3.4}}}
     ]},
    {"width": 172, "height": 74, "data": {"name": "c4_2010"},
     "encoding": {"x": {"field": "v", "type": "quantitative", "scale": {"domain": [1, 26], "nice": false, "zero": false}, "axis": {"values": [5, 10, 15, 20, 25], "title": "Village"}}},
     "layer": [
       {"mark": "rule", "encoding": {"y": {"field": "o", "type": "quantitative", "scale": {"domain": [0, 4]}, "axis": {"values": [0, 2, 4], "title": null}}, "y2": {"datum": 0}}},
       {"mark": "line", "encoding": {"y": {"field": "p", "type": "quantitative", "scale": {"domain": [0, 4]}}}},
       {"mark": "point", "encoding": {"y": {"field": "o", "type": "quantitative", "scale": {"domain": [0, 4]}}}},
       {"data": {"values": [{"t": "2010"}]}, "mark": "text", "encoding": {"text": {"field": "t"}, "x": {"datum": 13.5}, "y": {"datum": 3.4}}}
     ]},
    {"width": 173, "height": 74, "data": {"name": "c1_2011"},
     "encoding": {"x": {"field": "v", "type": "quantitative", "scale": {"domain": [1, 72], "nice": false, "zero": false}, "axis": {"values": [20, 40, 60], "title": "Village"}}},
     "layer": [
       {"mark": "rule", "encoding": {"y": {"field": "o", "type": "quantitative", "scale": {"domain": [0, 4]}, "axis": {"values": [0, 2, 4], "title": "Human Infection"}}, "y2": {"datum": 0}}},
       {"mark": "line", "encoding": {"y": {"field": "p", "type": "quantitative", "scale": {"domain": [0, 4]}}}},
       {"mark": "point", "encoding": {"y": {"field": "o", "type": "quantitative", "scale": {"domain": [0, 4]}}}},
       {"data": {"values": [{"t": "2011"}]}, "mark": "text", "encoding": {"text": {"field": "t"}, "x": {"datum": 36.5}, "y": {"datum": 3.4}}}
     ]},
    {"width": 171, "height": 74, "data": {"name": "c2_2011"},
     "encoding": {"x": {"field": "v", "type": "quantitative", "scale": {"domain": [1, 58], "nice": false, "zero": false}, "axis": {"values": [10, 20, 30, 40, 50], "title": "Village"}}},
     "layer": [
       {"mark": "rule", "encoding": {"y": {"field": "o", "type": "quantitative", "scale": {"domain": [0, 4]}, "axis": {"values": [0, 2, 4], "title": null}}, "y2": {"datum": 0}}},
       {"mark": "line", "encoding": {"y": {"field": "p", "type": "quantitative", "scale": {"domain": [0, 4]}}}},
       {"mark": "point", "encoding": {"y": {"field": "o", "type": "quantitative", "scale": {"domain": [0, 4]}}}},
       {"data": {"values": [{"t": "2011"}]}, "mark": "text", "encoding": {"text": {"field": "t"}, "x": {"datum": 29.5}, "y": {"datum": 3.4}}}
     ]},
    {"width": 171, "height": 74, "data": {"name": "c3_2011"},
     "encoding": {"x": {"field": "v", "type": "quantitative", "scale": {"domain": [1, 42], "nice": false, "zero": false}, "axis": {"values": [10, 20, 30, 40], "title": "Village"}}},
     "layer": [
       {"mark": "rule", "encoding": {"y": {"field": "o", "type": "quantitative", "scale": {"domain": [0, 4]}, "axis": {"values": [0, 2, 4], "title": null}}, "y2": {"datum": 0}}},
       {"mark": "line", "encoding": {"y": {"field": "p", "type": "quantitative", "scale": {"domain": [0, 4]}}}},
       {"mark": "point", "encoding": {"y": {"field": "o", "type": "quantitative", "scale": {"domain": [0, 4]}}}},
       {"data": {"values": [{"t": "2011"}]}, "mark": "text", "encoding": {"text": {"field": "t"}, "x": {"datum": 21.5}, "y": {"datum": 3.4}}}
     ]},
    {"width": 172, "height": 74, "data": {"name": "c4_2011"},
     "encoding": {"x": {"field": "v", "type": "quantitative", "scale": {"domain": [1, 26], "nice": false, "zero": false}, "axis": {"values": [5, 10, 15, 20, 25], "title": "Village"}}},
     "layer": [
       {"mark": "rule", "encoding": {"y": {"field": "o", "type": "quantitative", "scale": {"domain": [0, 4]}, "axis": {"values": [0, 2, 4], "title": null}}, "y2": {"datum": 0}}},
       {"mark": "line", "encoding": {"y": {"field": "p", "type": "quantitative", "scale": {"domain": [0, 4]}}}},
       {"mark": "point", "encoding": {"y": {"field": "o", "type": "quantitative", "scale": {"domain": [0, 4]}}}},
       {"data": {"values": [{"t": "2011"}]}, "mark": "text", "encoding": {"text": {"field": "t"}, "x": {"datum": 13.5}, "y": {"datum": 3.4}}}
     ]},
    {"width": 173, "height": 74, "data": {"name": "c1_2012"},
     "encoding": {"x": {"field": "v", "type": "quantitative", "scale": {"domain": [1, 72], "nice": false, "zero": false}, "axis": {"values": [20, 40, 60], "title": "Village"}}},
     "layer": [
       {"mark": "rule", "encoding": {"y": {"field": "o", "type": "quantitative", "scale": {"domain": [0, 4]}, "axis": {"values": [0, 2, 4], "title": "Human Infection"}}, "y2": {"datum": 0}}},
       {"mark": "line", "encoding": {"y": {"field": "p", "type": "quantitative", "scale": {"domain": [0, 4]}}}},
       {"mark": "point", "encoding": {"y": {"field": "o", "type": "quantitative", "scale": {"domain": [0, 4]}}}},
       {"data": {"values": [{"t": "2012"}]}, "mark": "text", "encoding": {"text": {"field": "t"}, "x": {"datum": 36.5}, "y": {"datum": 3.4}}}
     ]},
    {"width": 171, "height": 74, "data": {"name": "c2_2012"},
     "encoding": {"x": {"field": "v", "type": "quantitative", "scale": {"domain": [1, 58], "nice": false, "zero": false}, "axis": {"values": [10, 20, 30, 40, 50], "title": "Village"}}},
     "layer": [
       {"mark": "rule", "encoding": {"y": {"field": "o", "type": "quantitative", "scale": {"domain": [0, 4]}, "axis": {"values": [0, 2, 4], "title": null}}, "y2": {"datum": 0}}},
       {"mark": "line", "encoding": {"y": {"field": "p", "type": "quantitative", "scale": {"domain": [0, 4]}}}},
       {"mark": "point", "encoding": {"y": {"field": "o", "type": "quantitative", "scale": {"domain": [0, 4]}}}},
       {"data": {"values": [{"t": "2012"}]}, "mark": "text", "encoding": {"text": {"field": "t"}, "x": {"datum": 29.5}, "y": {"datum": 3.4}}}
     ]},
    {"width": 171, "height": 74, "data": {"name": "c3_2012"},
     "encoding": {"x": {"field": "v", "type": "quantitative", "scale": {"domain": [1, 42], "nice": false, "zero": false}, "axis": {"values": [10, 20, 30, 40], "title": "Village"}}},
     "layer": [
       {"mark": "rule", "encoding": {"y": {"field": "o", "type": "quantitative", "scale": {"domain": [0, 4]}, "axis": {"values": [0, 2, 4], "title": null}}, "y2": {"datum": 0}}},
       {"mark": "line", "encoding": {"y": {"field": "p", "type": "quantitative", "scale": {"domain": [0, 4]}}}},
       {"mark": "point", "encoding": {"y": {"field": "o", "type": "quantitative", "scale": {"domain": [0, 4]}}}},
       {"data": {"values": [{"t": "2012"}]}, "mark": "text", "encoding": {"text": {"field": "t"}, "x": {"datum": 21.5}, "y": {"datum": 3.4}}}
     ]},
    {"width": 172, "height": 74, "data": {"name": "c4_2012"},
     "encoding": {"x": {"field": "v", "type": "quantitative", "scale": {"domain": [1, 26], "nice": false, "zero": false}, "axis": {"values": [5, 10, 15, 20, 25], "title": "Village"}}},
     "layer": [
       {"mark": "rule", "encoding": {"y": {"field": "o", "type": "quantitative", "scale": {"domain": [0, 4]}, "axis": {"values": [0, 2, 4], "title": null}}, "y2": {"datum": 0}}},
       {"mark": "line", "encoding": {"y": {"field": "p", "type": "quantitative", "scale": {"domain": [0, 4]}}}},
       {"mark": "point", "encoding": {"y": {"field": "o", "type": "quantitative", "scale": {"domain": [0, 4]}}}},
       {"data": {"values": [{"t": "2012"}]}, "mark": "text", "encoding": {"text": {"field": "t"}, "x": {"datum": 13.5}, "y": {"datum": 3.4}}}
     ]},
    {"width": 173, "height": 74, "data": {"name": "c1_2013"},
     "title": {"text": "Village Cluster Ⅰ", "orient": "bottom", "font": "Liberation Serif", "fontSize": 15, "fontWeight": "normal", "color": "#000", "offset": 4},
     "encoding": {"x": {"field": "v", "type": "quantitative", "scale": {"domain": [1, 72], "nice": false, "zero": false}, "axis": {"values": [20, 40, 60], "title": "Village", "titlePadding": 11}}},
     "layer": [
       {"mark": "rule", "encoding": {"y": {"field": "o", "type": "quantitative", "scale": {"domain": [0, 4]}, "axis": {"values": [0, 2, 4], "title": "Human Infection"}}, "y2": {"datum": 0}}},
       {"mark": "line", "encoding": {"y": {"field": "p", "type": "quantitative", "scale": {"domain": [0, 4]}}}},
       {"mark": "point", "encoding": {"y": {"field": "o", "type": "quantitative", "scale": {"domain": [0, 4]}}}},
       {"data": {"values": [{"t": "2013"}]}, "mark": "text", "encoding": {"text": {"field": "t"}, "x": {"datum": 36.5}, "y": {"datum": 3.4}}}
     ]},
    {"width": 171, "height": 74, "data": {"name": "c2_2013"},
     "title": {"text": "Village Cluster Ⅱ", "orient": "bottom", "font": "Liberation Serif", "fontSize": 15, "fontWeight": "normal", "color": "#000", "offset": 4},
     "encoding": {"x": {"field": "v", "type": "quantitative", "scale": {"domain": [1, 58], "nice": false, "zero": false}, "axis": {"values": [10, 20, 30, 40, 50], "title": "Village", "titlePadding": 11}}},
     "layer": [
       {"mark": "rule", "encoding": {"y": {"field": "o", "type": "quantitative", "scale": {"domain": [0, 4]}, "axis": {"values": [0, 2, 4], "title": null}}, "y2": {"datum": 0}}},
       {"mark": "line", "encoding": {"y": {"field": "p", "type": "quantitative", "scale": {"domain": [0, 4]}}}},
       {"mark": "point", "encoding": {"y": {"field": "o", "type": "quantitative", "scale": {"domain": [0, 4]}}}},
       {"data": {"values": [{"t": "2013"}]}, "mark": "text", "encoding": {"text": {"field": "t"}, "x": {"datum": 29.5}, "y": {"datum": 3.4}}}
     ]},
    {"width": 171, "height": 74, "data": {"name": "c3_2013"},
     "title": {"text": "Village Cluster Ⅲ", "orient": "bottom", "font": "Liberation Serif", "fontSize": 15, "fontWeight": "normal", "color": "#000", "offset": 4},
     "encoding": {"x": {"field": "v", "type": "quantitative", "scale": {"domain": [1, 42], "nice": false, "zero": false}, "axis": {"values": [10, 20, 30, 40], "title": "Village", "titlePadding": 11}}},
     "layer": [
       {"mark": "rule", "encoding": {"y": {"field": "o", "type": "quantitative", "scale": {"domain": [0, 4]}, "axis": {"values": [0, 2, 4], "title": null}}, "y2": {"datum": 0}}},
       {"mark": "line", "encoding": {"y": {"field": "p", "type": "quantitative", "scale": {"domain": [0, 4]}}}},
       {"mark": "point", "encoding": {"y": {"field": "o", "type": "quantitative", "scale": {"domain": [0, 4]}}}},
       {"data": {"values": [{"t": "2013"}]}, "mark": "text", "encoding": {"text": {"field": "t"}, "x": {"datum": 21.5}, "y": {"datum": 3.4}}}
     ]},
    {"width": 172, "height": 74, "data": {"name": "c4_2013"},
     "title": {"text": "Village Cluster Ⅳ", "orient": "bottom", "font": "Liberation Serif", "fontSize": 15, "fontWeight": "normal", "color": "#000", "offset": 4},
     "encoding": {"x": {"field": "v", "type": "quantitative", "scale": {"domain": [1, 26], "nice": false, "zero": false}, "axis": {"values": [5, 10, 15, 20, 25], "title": "Village", "titlePadding": 11}}},
     "layer": [
       {"mark": "rule", "encoding": {"y": {"field": "o", "type": "quantitative", "scale": {"domain": [0, 4]}, "axis": {"values": [0, 2, 4], "title": null}}, "y2": {"datum": 0}}},
       {"mark": "line", "encoding": {"y": {"field": "p", "type": "quantitative", "scale": {"domain": [0, 4]}}}},
       {"mark": "point", "encoding": {"y": {"field": "o", "type": "quantitative", "scale": {"domain": [0, 4]}}}},
       {"data": {"values": [{"t": "2013"}]}, "mark": "text", "encoding": {"text": {"field": "t"}, "x": {"datum": 13.5}, "y": {"datum": 3.4}}}
     ]}
  ]
}
